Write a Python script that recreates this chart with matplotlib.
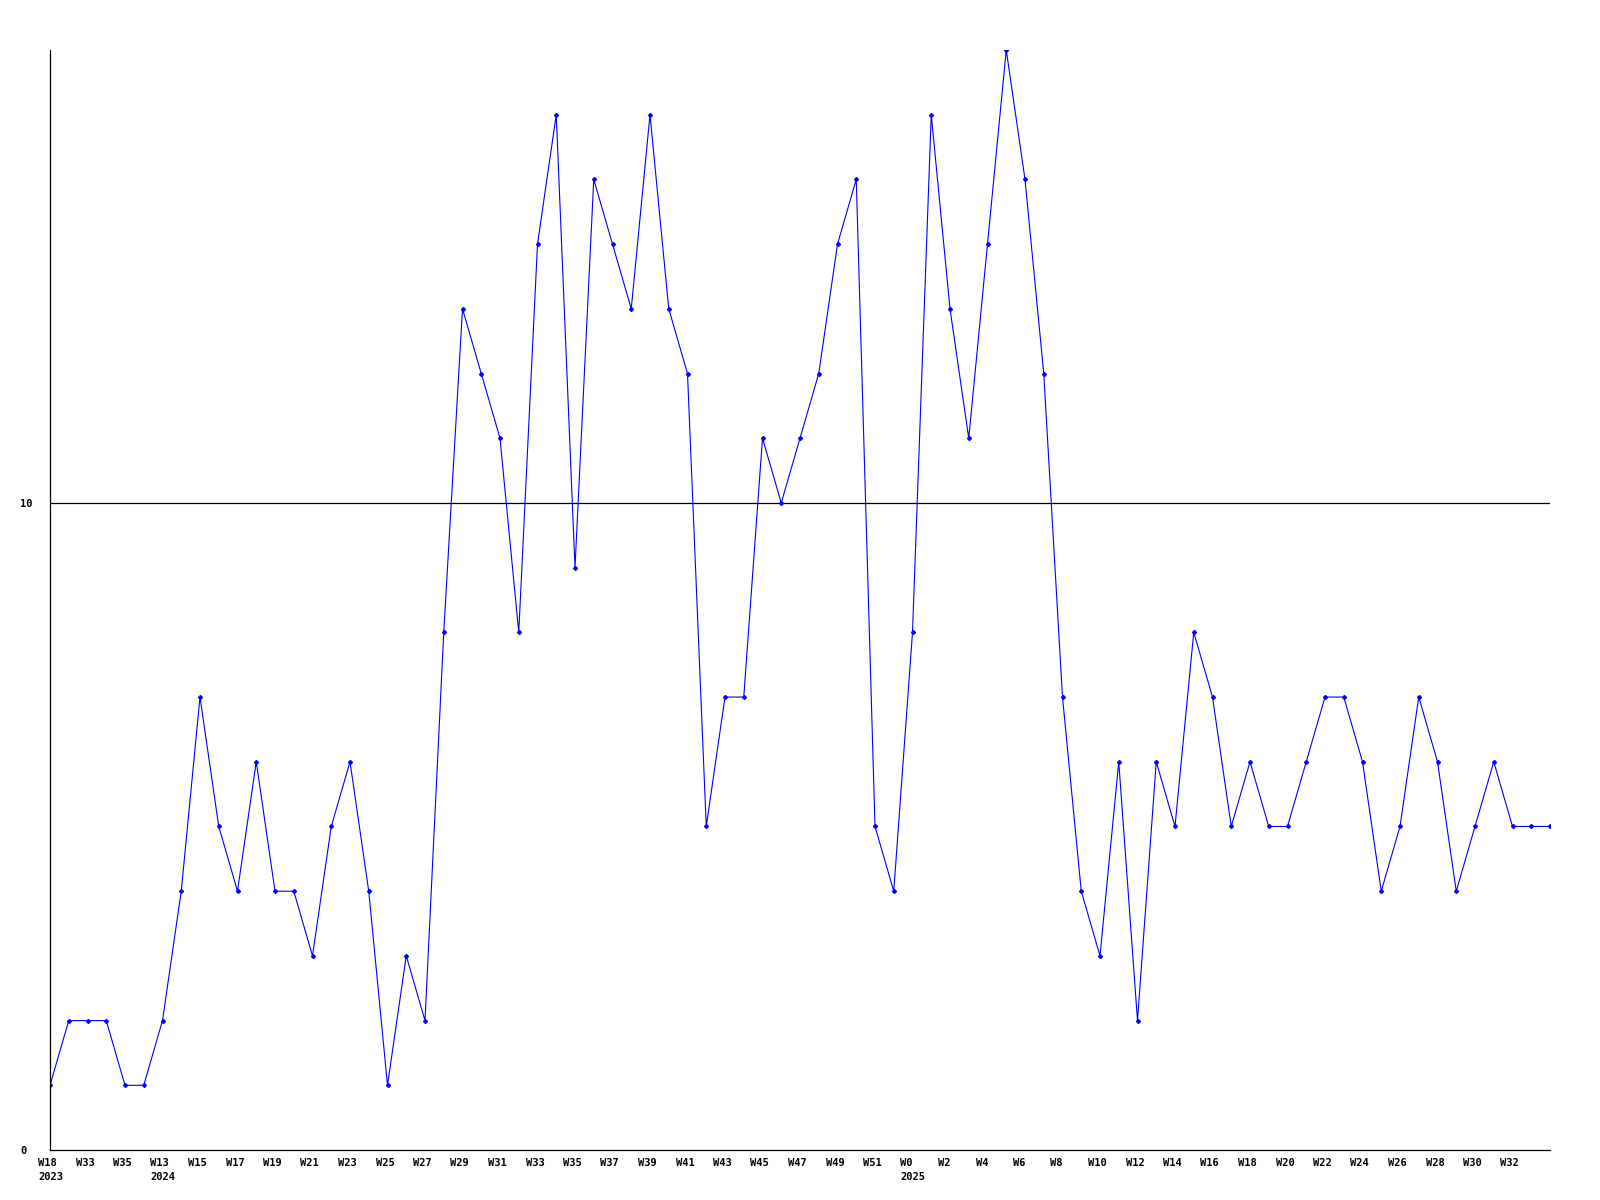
import matplotlib
matplotlib.use("Agg")
import matplotlib.pyplot as plt
import matplotlib.transforms as mtransforms

# ==================================================
# DATA
# ==================================================
values = [1, 2, 2, 2, 1, 1, 2, 4, 7, 5,
          4, 6, 4, 4, 3, 5, 6, 4, 1, 3,
          2, 8, 13, 12, 11, 8, 14, 16, 9, 15,
          14, 13, 16, 13, 12, 5, 7, 7, 11, 10,
          11, 12, 14, 15, 5, 4, 8, 16, 13, 11,
          14, 17, 15, 12, 7, 4, 3, 6, 2, 6,
          5, 8, 7, 5, 6, 5, 5, 6, 7, 7,
          6, 4, 5, 7, 6, 4, 5, 6, 5, 5,
          5]

# one label every second point
tick_labels = ["W18\n2023", "W33", "W35", "W13\n2024", "W15", "W17", "W19", "W21",
               "W23", "W25", "W27", "W29", "W31", "W33", "W35", "W37", "W39", "W41",
               "W43", "W45", "W47", "W49", "W51", "W0\n2025", "W2", "W4", "W6", "W8",
               "W10", "W12", "W14", "W16", "W18", "W20", "W22", "W24", "W26", "W28",
               "W30", "W32"]

y_ticks = [0, 10]
y_max = 17

# ==================================================
# PLOT
# ==================================================
fig = plt.figure(figsize=(16, 12), dpi=100)
ax = fig.add_axes([0.03125, 0.04167, 0.9375, 0.91667])

x = list(range(len(values)))
ax.plot(x, values, color="#0000ff", linewidth=0.8, marker="D", markersize=2.0,
        markerfacecolor="#0000ff", markeredgecolor="#0000ff")

ax.axhline(10, color="black", linewidth=0.9, zorder=0)

ax.set_xlim(0, len(values) - 1)
ax.set_ylim(0, y_max)

ax.spines["top"].set_visible(False)
ax.spines["right"].set_visible(False)
ax.spines["left"].set_linewidth(0.9)
ax.spines["bottom"].set_linewidth(0.9)

font = dict(family="DejaVu Sans Mono", weight="bold", size=7.5)

ax.set_xticks(x[::2][:len(tick_labels)])
ax.set_xticklabels(tick_labels, ha="left", multialignment="left",
                   linespacing=1.5, **font)
ax.set_yticks(y_ticks)
ax.set_yticklabels([str(v) for v in y_ticks], ha="left", **font)
ax.tick_params(axis="both", length=0)
ax.tick_params(axis="x", pad=5.5)
ax.tick_params(axis="y", pad=21.5)

# shift x labels so they start a little left of their point
shift = mtransforms.ScaledTranslation(-12 / 100, 0, fig.dpi_scale_trans)
for lbl in ax.get_xticklabels():
    lbl.set_transform(lbl.get_transform() + shift)

fig.savefig("out.png", dpi=100)
